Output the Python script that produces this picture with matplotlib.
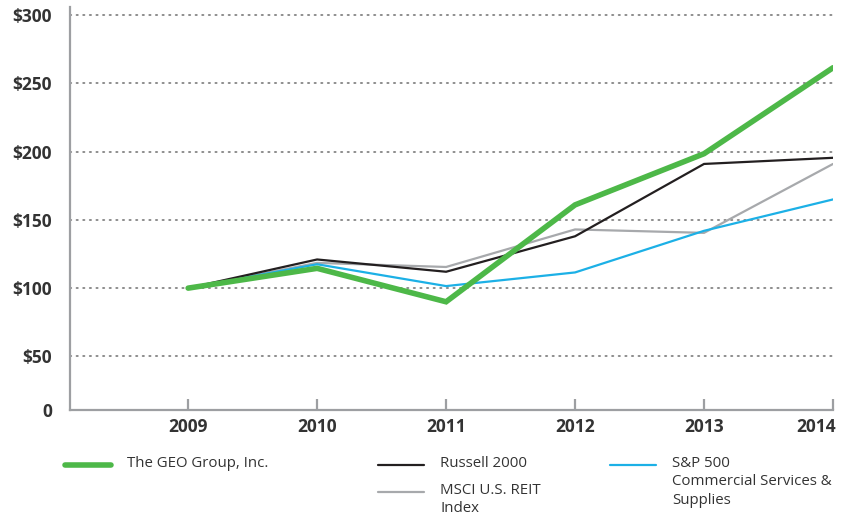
import matplotlib.pyplot as plt
from matplotlib.lines import Line2D
from matplotlib.transforms import ScaledTranslation

plt.rcParams['font.family'] = ['Open Sans', 'DejaVu Sans']

# Data: value of $100 invested, fiscal year end
years = [2009, 2010, 2011, 2012, 2013, 2014]
geo = [100, 114.5, 90, 161, 198.5, 261.5]
russell = [100, 121, 112, 138, 191, 195.5]
msci_reit = [100, 118.5, 115.5, 143, 140.5, 191]
sp500_css = [100, 117.5, 101.5, 111.5, 142, 165]

series_labels = ['The GEO Group, Inc.', 'Russell 2000', 'MSCI U.S. REIT\nIndex',
                 'S&P 500\nCommercial Services &\nSupplies']
y_ticks = [300, 250, 200, 150, 100, 50]
y_tick_labels = ['$300', '$250', '$200', '$150', '$100', '$50']

GREEN = '#4db848'
BLACK = '#231f20'
GRAY = '#a7a9ac'
BLUE = '#1cb0e6'
TEXT = '#333333'

fig = plt.figure(figsize=(8.44, 5.23), dpi=100)
ax = fig.add_axes([70 / 844, 1 - 410 / 523, (833 - 70) / 844, (410 - 7) / 523])

# gridlines
for v in y_ticks:
    ax.axhline(v, color='#8c8c8c', lw=1.4, ls=(0, (0.6, 2.8)), zorder=1,
               dash_capstyle='round')

styles = [
    (geo, GREEN, 4.0, 5),
    (russell, BLACK, 1.6, 4),
    (msci_reit, GRAY, 1.6, 3),
    (sp500_css, BLUE, 1.6, 3.5),
]
for vals, col, lw, z in styles:
    ax.plot(years, vals, color=col, lw=lw, zorder=z, solid_capstyle='round',
            solid_joinstyle='miter')

ax.set_xlim(2008.084, 2014.0)
ax.set_ylim(10.7, 306)

for s in ['top', 'right']:
    ax.spines[s].set_visible(False)
for s in ['left', 'bottom']:
    ax.spines[s].set_color('#9d9fa2')
    ax.spines[s].set_linewidth(1.6)

ax.set_yticks(y_ticks + [10.7])
ax.set_yticklabels(y_tick_labels + ['0'])
ax.tick_params(axis='y', length=0, pad=13, labelsize=12.5, labelcolor=TEXT)
for t in ax.get_yticklabels():
    t.set_fontweight('bold')

ax.set_xticks(years)
ax.set_xticklabels([str(y) for y in years])
ax.tick_params(axis='x', direction='in', length=8, width=1.6, color='#9d9fa2',
               pad=6, labelsize=12.5, labelcolor=TEXT)
for t in ax.get_xticklabels():
    t.set_fontweight('bold')
# last year label sits flush with the end of the axis
last = ax.get_xticklabels()[-1]
last.set_ha('right')
last.set_transform(last.get_transform() + ScaledTranslation(3 / 100, 0, fig.dpi_scale_trans))

# legend, drawn by hand to keep the report layout
legend_pos = [
    (65, 465, GREEN, 4.0),
    (378, 465, BLACK, 1.6),
    (378, 492, GRAY, 1.6),
    (610, 465, BLUE, 1.6),
]
for (px, py, col, lw), label in zip(legend_pos, series_labels):
    fy = 1 - py / 523
    fig.add_artist(Line2D([px / 844, (px + 46) / 844], [fy, fy], color=col, lw=lw,
                          solid_capstyle='round', transform=fig.transFigure))
    fig.text((px + 62) / 844, fy + 9 / 523, label, ha='left', va='top',
             fontsize=10.8, color=TEXT, linespacing=1.3)

fig.savefig('out.png', dpi=100)
